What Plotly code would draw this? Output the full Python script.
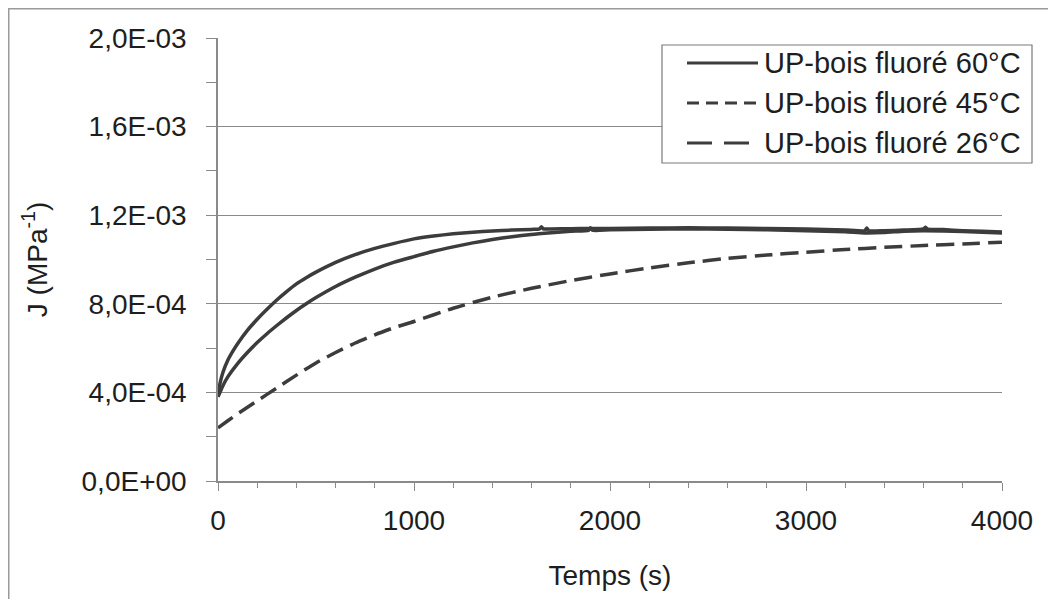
import plotly.graph_objects as go

# ---------------- data ----------------
series_names = ["UP-bois fluoré 60°C", "UP-bois fluoré 45°C", "UP-bois fluoré 26°C"]

t_60 = [0, 10, 25, 50, 75, 100, 150, 200, 250, 300, 350, 400, 450, 500, 600, 700, 800, 900,
        1000, 1100, 1200, 1300, 1400, 1500, 1600, 1640, 1650, 1660, 1700, 1800, 1900, 2000, 2200,
        2400, 2600, 2800, 3000, 3200, 3300, 3310, 3320, 3400, 3500, 3600, 3610, 3620, 3700, 3800,
        3900, 4000]
J_60 = [3.8e-4, 4.4e-4, 4.9e-4, 5.45e-4, 5.85e-4, 6.2e-4, 6.8e-4, 7.3e-4, 7.75e-4, 8.17e-4,
        8.55e-4, 8.9e-4, 9.18e-4, 9.43e-4, 9.87e-4, 1.022e-3, 1.05e-3, 1.073e-3,
        1.093e-3, 1.106e-3, 1.116e-3, 1.123e-3, 1.129e-3, 1.133e-3, 1.136e-3, 1.138e-3, 1.148e-3,
        1.138e-3, 1.138e-3, 1.139e-3, 1.14e-3, 1.14e-3, 1.142e-3,
        1.143e-3, 1.142e-3, 1.14e-3, 1.138e-3, 1.133e-3, 1.13e-3, 1.142e-3, 1.13e-3, 1.13e-3,
        1.133e-3, 1.138e-3, 1.146e-3, 1.137e-3, 1.135e-3, 1.13e-3, 1.127e-3, 1.124e-3]

t_45 = [0, 10, 25, 50, 100, 150, 200, 250, 300, 350, 400, 450, 500, 600, 700, 800, 900, 1000,
        1100, 1200, 1300, 1400, 1500, 1600, 1700, 1800, 1890, 1900, 1910, 2000, 2200, 2400,
        2600, 2800, 3000, 3200, 3300, 3400, 3500, 3600, 3800, 4000]
J_45 = [3.8e-4, 4.0e-4, 4.3e-4, 4.7e-4, 5.3e-4, 5.8e-4, 6.25e-4, 6.65e-4, 7.02e-4, 7.37e-4,
        7.7e-4, 8.0e-4, 8.28e-4, 8.78e-4, 9.2e-4, 9.57e-4, 9.88e-4, 1.013e-3,
        1.037e-3, 1.057e-3, 1.075e-3, 1.09e-3, 1.103e-3, 1.113e-3, 1.121e-3, 1.128e-3, 1.131e-3,
        1.143e-3, 1.132e-3, 1.134e-3, 1.137e-3, 1.138e-3,
        1.137e-3, 1.134e-3, 1.13e-3, 1.125e-3, 1.12e-3, 1.122e-3, 1.128e-3, 1.13e-3, 1.126e-3, 1.12e-3]

t_26 = [0, 50, 100, 200, 300, 400, 500, 600, 700, 800, 900, 1000, 1200, 1400, 1600,
        1800, 2000, 2200, 2400, 2600, 2800, 3000, 3200, 3400, 3600, 3800, 4000]
J_26 = [2.4e-4, 2.72e-4, 3.03e-4, 3.62e-4, 4.2e-4, 4.78e-4, 5.33e-4, 5.8e-4, 6.23e-4, 6.6e-4,
        6.93e-4, 7.2e-4, 7.8e-4, 8.3e-4, 8.7e-4, 9.05e-4, 9.35e-4, 9.62e-4, 9.85e-4,
        1.005e-3, 1.02e-3, 1.033e-3, 1.045e-3, 1.055e-3, 1.063e-3, 1.07e-3, 1.078e-3]

y_tickvals = [0, 4e-4, 8e-4, 1.2e-3, 1.6e-3, 2.0e-3]
y_ticktext = ["0,0E+00", "4,0E-04", "8,0E-04", "1,2E-03", "1,6E-03", "2,0E-03"]
x_tickvals = [0, 1000, 2000, 3000, 4000]
x_ticktext = ["0", "1000", "2000", "3000", "4000"]

# ---------------- layout geometry ----------------
OFF = 8                      # default page (body) margin of the html page
W, H = 1040, 591             # figure size so that page = 1056 x 607
L, R, T, B = 218, 1002, 38, 481  # plot area in page pixels


def px(xp):
    return (xp - L) / (R - L)


def py(yp):
    return (B - yp) / (B - T)


LINE_COL = "#3c3c3c"
GRID_COL = "#8a8a8a"
TXT_COL = "#1e1e1e"
FONT = "Liberation Sans, Arial, sans-serif"
FS = 28

styles = [
    dict(color=LINE_COL, width=3.5, dash="solid", shape="spline", smoothing=0.5),
    dict(color=LINE_COL, width=3.5, dash="solid", shape="spline", smoothing=0.5),
    dict(color=LINE_COL, width=3.5, dash="18px,8px", shape="spline", smoothing=0.5),
]
legend_dash = ["solid", "12px,7px", "25px,12px"]

fig = go.Figure()
for name, t, J, st in zip(series_names, [t_60, t_45, t_26], [J_60, J_45, J_26], styles):
    fig.add_trace(go.Scatter(x=t, y=J, mode="lines", name=name, line=st,
                             showlegend=False, hoverinfo="x+y+name"))

shapes = []
annotations = []
# outer chart frame
shapes.append(dict(type="rect", xref="paper", yref="paper",
                   x0=px(OFF + 0.75), x1=px(1100), y0=py(700), y1=py(OFF + 0.75),
                   line=dict(color="#9a9a9a", width=1.5), layer="below"))
# legend box
shapes.append(dict(type="rect", xref="paper", yref="paper",
                   x0=px(662), x1=px(1032), y0=py(163), y1=py(45),
                   line=dict(color="#7a7a7a", width=1.2), fillcolor="white", layer="above"))
for i, (name, dash) in enumerate(zip(series_names, legend_dash)):
    yc = 63 + 40 * i
    shapes.append(dict(type="line", xref="paper", yref="paper",
                       x0=px(687), x1=px(758), y0=py(yc), y1=py(yc),
                       line=dict(color=LINE_COL, width=3.2, dash=dash), layer="above"))
    annotations.append(dict(xref="paper", yref="paper", x=px(762), y=py(yc),
                            xanchor="left", yanchor="middle", text=name, showarrow=False,
                            font=dict(family=FONT, size=29, color=TXT_COL)))

fig.update_layout(
    width=W, height=H, autosize=False,
    margin=dict(l=L - OFF, r=(OFF + W) - R, t=T - OFF, b=(OFF + H) - B, pad=0),
    paper_bgcolor="white", plot_bgcolor="white",
    showlegend=False,
    font=dict(family=FONT, size=FS, color=TXT_COL),
    shapes=shapes, annotations=annotations,
)
fig.update_xaxes(
    range=[0, 4000], tickvals=x_tickvals, ticktext=x_ticktext,
    showgrid=False, zeroline=False, showline=True, linecolor=GRID_COL, linewidth=1.5,
    ticks="outside", ticklen=8, tickcolor=GRID_COL, tickwidth=1.2, ticklabelstandoff=6,
    minor=dict(dtick=200, ticks="outside", ticklen=5, tickcolor=GRID_COL, showgrid=False),
    tickfont=dict(size=FS, color=TXT_COL),
    title=dict(text="Temps (s)", font=dict(size=FS, color=TXT_COL), standoff=30),
)
fig.update_yaxes(
    range=[0, 2.0e-3], tickvals=y_tickvals, ticktext=y_ticktext,
    showgrid=True, gridcolor=GRID_COL, gridwidth=1.2, zeroline=False,
    showline=True, linecolor=GRID_COL, linewidth=1.5,
    ticks="outside", ticklen=10, tickcolor=GRID_COL, tickwidth=1.2, ticklabelstandoff=14,
    minor=dict(dtick=2e-4, ticks="outside", ticklen=10, tickcolor=GRID_COL, showgrid=False),
    tickfont=dict(size=FS, color=TXT_COL),
    title=dict(text="J (MPa<sup>-1</sup>)", font=dict(size=FS, color=TXT_COL), standoff=26),
)

fig.write_html("out.html")
